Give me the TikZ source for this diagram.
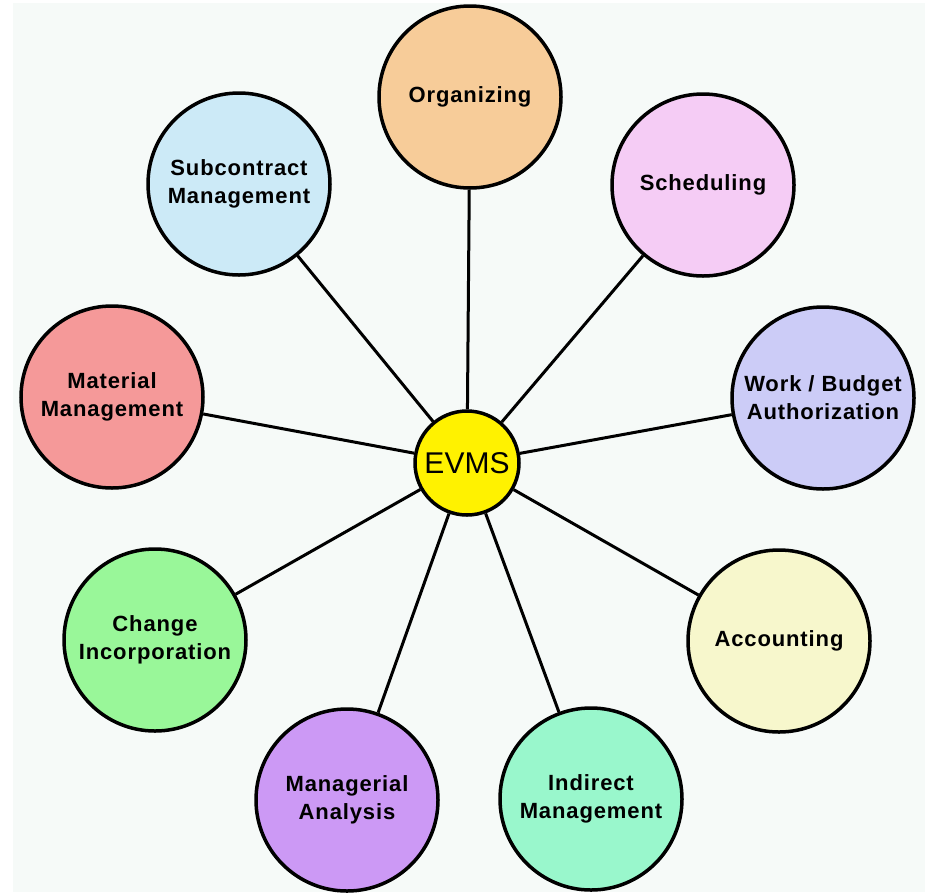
\documentclass[tikz,border=0pt]{standalone}
\usepackage{fontspec}
\setmainfont{Liberation Sans}
\usepackage{tikz}
\usetikzlibrary{positioning}

\definecolor{bgcol}{HTML}{F6FAF8}
\definecolor{orgcol}{HTML}{F7CC99}
\definecolor{schcol}{HTML}{F5CCF5}
\definecolor{subcol}{HTML}{CCEAF7}
\definecolor{wbacol}{HTML}{CCCCF7}
\definecolor{matcol}{HTML}{F59999}
\definecolor{acccol}{HTML}{F7F7CC}
\definecolor{chgcol}{HTML}{99F799}
\definecolor{mancol}{HTML}{CC99F5}
\definecolor{indcol}{HTML}{99F7CC}

\begin{document}
\begin{tikzpicture}
[
	              x = 1pt,
	              y = -1pt,
	    topic/.style = { draw=black, circle, line width=3.5pt, minimum size=182pt,
	                     inner sep=0pt, align=center,
	                     font=\fontsize{22}{28}\selectfont\bfseries\addfontfeature{LetterSpace=4} },
	     hub/.style = { draw=black, circle, line width=3.5pt, fill=yellow, minimum size=104pt,
	                     inner sep=0pt, font=\fontsize{30}{32}\selectfont },
	   spoke/.style = { draw=black, line width=3pt }
]
	% frame
	\useasboundingbox (0,0) rectangle (925,892);
	\fill [bgcol] (13,3) rectangle (925,892);

	% nodes
	\node (evms) at (467,463) [hub] {EVMS};
	\node  (org) at (470,97)  [topic, fill=orgcol] {Organizing};
	\node  (sch) at (703,185) [topic, fill=schcol] {Scheduling};
	\node  (sub) at (239,184) [topic, fill=subcol] {Subcontract\\Management};
	\node  (wba) at (823,398) [topic, fill=wbacol] {Work / Budget\\Authorization};
	\node  (mat) at (112,397) [topic, fill=matcol] {Material\\Management};
	\node  (acc) at (779,641) [topic, fill=acccol] {Accounting};
	\node  (chg) at (155,640) [topic, fill=chgcol] {Change\\Incorporation};
	\node  (man) at (347,800) [topic, fill=mancol] {Managerial\\Analysis};
	\node  (ind) at (591,799) [topic, fill=indcol] {Indirect\\Management};

	% edges
	\draw [spoke] (evms) edge (org) (evms) edge (sch) (evms) edge (sub)
	              (evms) edge (wba) (evms) edge (mat) (evms) edge (acc)
	              (evms) edge (chg) (evms) edge (man) (evms) edge (ind);
\end{tikzpicture}
\end{document}
